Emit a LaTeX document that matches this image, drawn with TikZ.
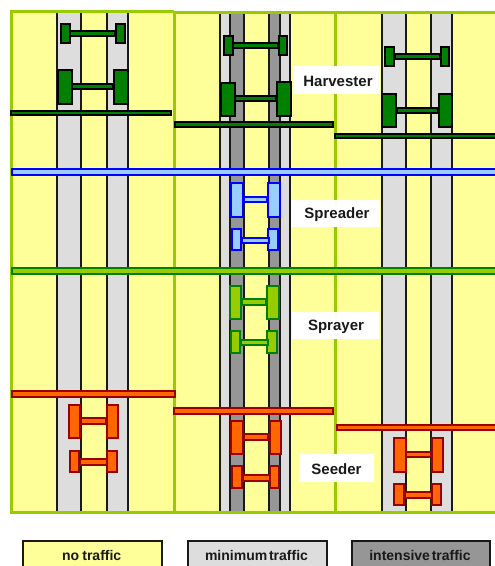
\documentclass[tikz,border=0pt]{standalone}
\usepackage{fontspec}
\setmainfont{Liberation Sans}
\definecolor{fieldyellow}{HTML}{FFFF99}
\definecolor{minigray}{HTML}{DDDDDD}
\definecolor{intgray}{HTML}{969696}
\definecolor{fieldgreen}{HTML}{99CC00}
\definecolor{darkgreen}{HTML}{008000}
\definecolor{skyfill}{HTML}{99CCFF}
\definecolor{skyline}{HTML}{0000FF}
\definecolor{orangefill}{HTML}{FF6600}
\definecolor{orangeline}{HTML}{990000}
\tikzset{
  harvesterpart/.style={fill=darkgreen,draw=black,line width=2pt},
  spreaderpart/.style={fill=skyfill,draw=skyline,line width=2pt},
  sprayerpart/.style={fill=fieldgreen,draw=darkgreen,line width=2pt},
  seederpart/.style={fill=orangefill,draw=orangeline,line width=2pt},
  trackline/.style={draw=black!90,line width=2pt},
  fieldline/.style={draw=fieldgreen,line width=3pt},
  labelbox/.style={fill=white,inner sep=0pt,minimum height=27.5pt,anchor=center},
  labeltext/.style={font=\bfseries\fontsize{15}{15}\selectfont,text=black!90,inner sep=0pt},
  legendbox/.style={draw=black!90,line width=2pt,anchor=north west,minimum height=28pt,inner sep=0pt},
  legendtext/.style={font=\bfseries\fontsize{14}{15}\selectfont,text=black!90,inner sep=0pt}
}
% outer extents x1,y1,x2,y2 of a part, snapped to whole pixels
\newcommand{\partbox}[5]{%
  \pgfmathsetmacro{\pxa}{round(#2)+1}\pgfmathsetmacro{\pya}{round(#3)+1}%
  \pgfmathsetmacro{\pxb}{round(#4)-1}\pgfmathsetmacro{\pyb}{round(#5)-1}%
  \path[#1] (\pxa,\pya) rectangle (\pxb,\pyb);}
\begin{document}
\begin{tikzpicture}[x=1pt,y=-1pt]
\useasboundingbox (0,0) rectangle (495,566);
\clip (0,0) rectangle (495,566);
% field
\fill[fieldyellow] (11,11) rectangle (495,512);
% left tracks
\fill[minigray] (57,12) rectangle (81,512) (107,12) rectangle (128,512);
\foreach \x in {57,81,107,128} \draw[trackline] (\x,12) -- (\x,512);
% centre tracks
\fill[minigray] (220,12) rectangle (290,512);
\fill[intgray] (230,12) rectangle (244,512) (269,12) rectangle (280,512);
\fill[fieldyellow] (244,12) rectangle (269,512);
\foreach \x in {220,230,244,269,280,290} \draw[trackline] (\x,12) -- (\x,512);
% right tracks
\fill[minigray] (382,12) rectangle (406,512) (431,12) rectangle (452,512);
\foreach \x in {382,406,431,452} \draw[trackline] (\x,12) -- (\x,512);
% field outlines
\draw[fieldline] (174,11) -- (11,11) -- (11,512) -- (495,512);
\draw[fieldline] (174,11) -- (174,512);
\draw[fieldline] (174,12) -- (495,12);
\draw[fieldline] (335,12) -- (335,512);
% labels
\node[labelbox,minimum width=87pt] (harvester) at (336.5,80) {};
\node[labeltext] (harvestertext) at (338,81.5) {Harvester};
\node[labelbox,minimum width=89pt] (spreader) at (335.5,213.5) {};
\node[labeltext] (spreadertext) at (337,215) {Spreader};
\node[labelbox,minimum width=87pt] (sprayer) at (335.5,325.5) {};
\node[labeltext] (sprayertext) at (336,326.5) {Sprayer};
\node[labelbox,minimum width=75pt] (seeder) at (336.5,468) {};
\node[labeltext] (seedertext) at (336.5,469) {Seeder};
% harvester left
\partbox{harvesterpart}{9.5}{109.5}{172}{116}
\partbox{harvesterpart}{69}{30}{116}{37}
\partbox{harvesterpart}{60}{23}{70.5}{44}
\partbox{harvesterpart}{115}{23}{125.5}{44}
\partbox{harvesterpart}{71}{83}{114}{90}
\partbox{harvesterpart}{56.5}{69}{72.5}{104.5}
\partbox{harvesterpart}{113}{69}{128.5}{104.5}
% harvester centre
\partbox{harvesterpart}{173.5}{121.2}{334}{127.8}
\partbox{harvesterpart}{232}{42}{279}{49}
\partbox{harvesterpart}{223.3}{35.3}{233.5}{56}
\partbox{harvesterpart}{277.7}{35.3}{288.3}{56}
\partbox{harvesterpart}{234}{95.3}{277}{102.3}
\partbox{harvesterpart}{220}{81.7}{235.7}{116.7}
\partbox{harvesterpart}{276}{80.5}{292.3}{116.5}
% harvester right
\partbox{harvesterpart}{333.5}{132.5}{497}{139.3}
\partbox{harvesterpart}{394}{53}{441}{60}
\partbox{harvesterpart}{384.3}{46}{395}{67}
\partbox{harvesterpart}{439.7}{46}{450.3}{67}
\partbox{harvesterpart}{396}{106.5}{439}{114}
\partbox{harvesterpart}{380.7}{92.5}{397}{128}
\partbox{harvesterpart}{437.7}{92.5}{453.3}{128}
% spreader
\partbox{spreaderpart}{10.5}{167.5}{497}{175.5}
\partbox{spreaderpart}{243}{195.5}{268}{202.5}
\partbox{spreaderpart}{230.3}{182}{243.7}{217.5}
\partbox{spreaderpart}{267.3}{182}{280.5}{217.5}
\partbox{spreaderpart}{231}{227.5}{241.5}{251}
\partbox{spreaderpart}{267.3}{227.5}{278.5}{251}
\partbox{spreaderpart}{241}{236.5}{269.5}{243.5}
% sprayer
\partbox{sprayerpart}{10.5}{266.5}{497}{274.5}
\partbox{sprayerpart}{241}{298}{267}{305.5}
\partbox{sprayerpart}{229.3}{284.5}{242.3}{320}
\partbox{sprayerpart}{266.3}{284.5}{279.7}{320}
\partbox{sprayerpart}{230}{330}{240.7}{353.7}
\partbox{sprayerpart}{266.3}{330}{278}{353.7}
\partbox{sprayerpart}{240}{339}{268.5}{346}
% seeder left
\partbox{seederpart}{10.5}{390.3}{175.5}{398.3}
\partbox{seederpart}{80}{417.3}{107}{424.7}
\partbox{seederpart}{67.7}{403.5}{81.3}{439.3}
\partbox{seederpart}{105.7}{403.5}{119.3}{439.3}
\partbox{seederpart}{68.5}{449.5}{80.3}{473}
\partbox{seederpart}{105.7}{449.5}{117.5}{473}
\partbox{seederpart}{79}{458.3}{108}{465.7}
% seeder centre
\partbox{seederpart}{173}{407}{334}{414.5}
\partbox{seederpart}{243}{433.3}{269}{440.7}
\partbox{seederpart}{230.3}{419.5}{243.7}{454.9}
\partbox{seederpart}{268.5}{419.5}{281.9}{454.9}
\partbox{seederpart}{231}{465}{242.5}{488.7}
\partbox{seederpart}{268.5}{465}{279.5}{488.7}
\partbox{seederpart}{241.5}{474.3}{270.5}{481.7}
% seeder right
\partbox{seederpart}{336.3}{423.5}{497}{431.3}
\partbox{seederpart}{405}{450.8}{431.5}{458.2}
\partbox{seederpart}{393.3}{437.2}{406.5}{472.9}
\partbox{seederpart}{430.5}{437.2}{444}{472.9}
\partbox{seederpart}{393.3}{482.8}{405.3}{506.3}
\partbox{seederpart}{430.5}{482.8}{442.3}{506.3}
\partbox{seederpart}{404}{491.3}{433}{498.7}
% legend
\node[legendbox,fill=fieldyellow,minimum width=139pt] (nolegend) at (22,540) {};
\node[legendtext] (notext) at (91.7,555) {no\hspace{-0.05em} traffic};
\node[legendbox,fill=minigray,minimum width=139pt] (minlegend) at (187,540) {};
\node[legendtext] (mintext) at (256.5,555) {minimum\hspace{-0.15em} traffic};
\node[legendbox,fill=intgray,minimum width=138pt] (intlegend) at (351,540) {};
\node[legendtext] (inttext) at (420,555) {intensive\hspace{-0.15em} traffic};
\end{tikzpicture}
\end{document}
